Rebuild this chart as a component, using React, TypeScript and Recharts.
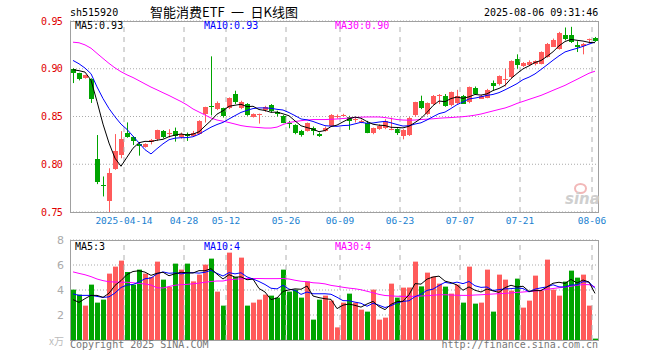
import { ComposedChart, Bar, Line, XAxis, YAxis, CartesianGrid, ReferenceLine } from 'recharts';

const RED = '#ff5b5b';
const GREEN = '#00a400';
const MONO = '"DejaVu Sans Mono", monospace';

const dates = [
  '03-31', '04-01', '04-02', '04-03', '04-07', '04-08', '04-09', '04-10', '04-11', '04-14',
  '04-15', '04-16', '04-17', '04-18', '04-21', '04-22', '04-23', '04-24', '04-25', '04-28',
  '04-29', '04-30', '05-06', '05-07', '05-08', '05-09', '05-12', '05-13', '05-14', '05-15',
  '05-16', '05-19', '05-20', '05-21', '05-22', '05-23', '05-26', '05-27', '05-28', '05-29',
  '05-30', '06-03', '06-04', '06-05', '06-06', '06-09', '06-10', '06-11', '06-12', '06-13',
  '06-16', '06-17', '06-18', '06-19', '06-20', '06-23', '06-24', '06-25', '06-26', '06-27',
  '06-30', '07-01', '07-02', '07-03', '07-04', '07-07', '07-08', '07-09', '07-10', '07-11',
  '07-14', '07-15', '07-16', '07-17', '07-18', '07-21', '07-22', '07-23', '07-24', '07-25',
  '07-28', '07-29', '07-30', '07-31', '08-01', '08-04', '08-05', '08-06',
];

const opens = [
  0.9000, 0.8955, 0.8903, 0.8896, 0.8056, 0.7785, 0.7611, 0.7951, 0.8097, 0.8330,
  0.8288, 0.8208, 0.8184, 0.8236, 0.8264, 0.8349, 0.8328, 0.8349, 0.8279, 0.8321,
  0.8304, 0.8321, 0.8518, 0.8614, 0.8577, 0.8588, 0.8588, 0.8735, 0.8595, 0.8630,
  0.8496, 0.8520, 0.8560, 0.8619, 0.8549, 0.8507, 0.8437, 0.8409, 0.8349, 0.8349,
  0.8384, 0.8321, 0.8349, 0.8402, 0.8500, 0.8514, 0.8500, 0.8461, 0.8454, 0.8437,
  0.8321, 0.8367, 0.8384, 0.8367, 0.8367, 0.8296, 0.8307, 0.8507, 0.8658, 0.8525,
  0.8630, 0.8721, 0.8718, 0.8614, 0.8646, 0.8719, 0.8649, 0.8800, 0.8691, 0.8702,
  0.8849, 0.8835, 0.8891, 0.8905, 0.9105, 0.9025, 0.9035, 0.9042, 0.9053, 0.9123,
  0.9235, 0.9210, 0.9351, 0.9351, 0.9246, 0.9246, 0.9305, 0.9326,
];
const highs = [
  0.9005, 0.8958, 0.8937, 0.8900, 0.8306, 0.7872, 0.7958, 0.8316, 0.8347, 0.8438,
  0.8295, 0.8229, 0.8219, 0.8264, 0.8362, 0.8358, 0.8367, 0.8384, 0.8332, 0.8332,
  0.8349, 0.8461, 0.8602, 0.9130, 0.8658, 0.8592, 0.8700, 0.8770, 0.8665, 0.8640,
  0.8532, 0.8530, 0.8612, 0.8630, 0.8560, 0.8514, 0.8454, 0.8419, 0.8360, 0.8437,
  0.8395, 0.8332, 0.8395, 0.8525, 0.8521, 0.8528, 0.8507, 0.8489, 0.8468, 0.8454,
  0.8384, 0.8419, 0.8472, 0.8489, 0.8377, 0.8367, 0.8496, 0.8654, 0.8718, 0.8647,
  0.8725, 0.8735, 0.8735, 0.8761, 0.8779, 0.8726, 0.8814, 0.8814, 0.8726, 0.8789,
  0.8877, 0.8930, 0.9000, 0.9088, 0.9151, 0.9070, 0.9088, 0.9088, 0.9182, 0.9270,
  0.9316, 0.9386, 0.9432, 0.9439, 0.9288, 0.9270, 0.9316, 0.9333,
];
const lows = [
  0.8850, 0.8878, 0.8896, 0.8642, 0.7792, 0.7663, 0.7500, 0.7941, 0.8063, 0.8278,
  0.8201, 0.8090, 0.8174, 0.8208, 0.8243, 0.8271, 0.8279, 0.8237, 0.8268, 0.8244,
  0.8286, 0.8314, 0.8437, 0.8512, 0.8567, 0.8489, 0.8577, 0.8630, 0.8577, 0.8507,
  0.8489, 0.8426, 0.8549, 0.8542, 0.8500, 0.8430, 0.8377, 0.8314, 0.8289, 0.8342,
  0.8304, 0.8286, 0.8342, 0.8395, 0.8479, 0.8500, 0.8360, 0.8437, 0.8430, 0.8325,
  0.8314, 0.8360, 0.8367, 0.8356, 0.8307, 0.8261, 0.8296, 0.8500, 0.8577, 0.8514,
  0.8623, 0.8630, 0.8602, 0.8607, 0.8632, 0.8632, 0.8639, 0.8726, 0.8684, 0.8691,
  0.8772, 0.8825, 0.8814, 0.8898, 0.9000, 0.9018, 0.9028, 0.9035, 0.9046, 0.9116,
  0.9228, 0.9200, 0.9298, 0.9270, 0.9175, 0.9151, 0.9263, 0.9281,
];
const closes = [
  0.8955, 0.8896, 0.8931, 0.8688, 0.7813, 0.7771, 0.7906, 0.8139, 0.8264, 0.8288,
  0.8243, 0.8191, 0.8215, 0.8253, 0.8358, 0.8286, 0.8332, 0.8296, 0.8314, 0.8304,
  0.8332, 0.8454, 0.8595, 0.8605, 0.8637, 0.8507, 0.8693, 0.8647, 0.8654, 0.8514,
  0.8525, 0.8525, 0.8595, 0.8560, 0.8525, 0.8437, 0.8425, 0.8325, 0.8304, 0.8430,
  0.8349, 0.8296, 0.8384, 0.8518, 0.8504, 0.8518, 0.8454, 0.8475, 0.8458, 0.8332,
  0.8377, 0.8402, 0.8454, 0.8370, 0.8321, 0.8356, 0.8489, 0.8647, 0.8588, 0.8637,
  0.8711, 0.8725, 0.8612, 0.8754, 0.8719, 0.8639, 0.8807, 0.8737, 0.8719, 0.8782,
  0.8814, 0.8919, 0.8895, 0.9077, 0.9046, 0.9060, 0.9070, 0.9077, 0.9175, 0.9263,
  0.9305, 0.9379, 0.9305, 0.9281, 0.9221, 0.9263, 0.9309, 0.9291,
];

const ma5 = [
  0.8990, 0.8980, 0.8965, 0.8880, 0.8657, 0.8420, 0.8222, 0.8063, 0.7979, 0.8074,
  0.8168, 0.8225, 0.8240, 0.8238, 0.8252, 0.8261, 0.8289, 0.8305, 0.8317, 0.8306,
  0.8316, 0.8340, 0.8400, 0.8458, 0.8525, 0.8560, 0.8607, 0.8618, 0.8628, 0.8603,
  0.8607, 0.8573, 0.8563, 0.8544, 0.8546, 0.8528, 0.8508, 0.8454, 0.8403, 0.8384,
  0.8367, 0.8341, 0.8353, 0.8395, 0.8410, 0.8444, 0.8476, 0.8494, 0.8482, 0.8447,
  0.8419, 0.8409, 0.8405, 0.8387, 0.8385, 0.8381, 0.8398, 0.8437, 0.8480, 0.8543,
  0.8614, 0.8662, 0.8655, 0.8688, 0.8704, 0.8690, 0.8706, 0.8731, 0.8724, 0.8737,
  0.8772, 0.8794, 0.8826, 0.8897, 0.8950, 0.8999, 0.9030, 0.9066, 0.9086, 0.9129,
  0.9178, 0.9240, 0.9285, 0.9307, 0.9298, 0.9290, 0.9276, 0.9273,
];
const ma10 = [
  0.9087, 0.9052, 0.9007, 0.8948, 0.8810, 0.8688, 0.8583, 0.8497, 0.8420, 0.8365,
  0.8294, 0.8223, 0.8152, 0.8108, 0.8163, 0.8214, 0.8257, 0.8273, 0.8278, 0.8279,
  0.8288, 0.8314, 0.8352, 0.8388, 0.8416, 0.8438, 0.8474, 0.8509, 0.8543, 0.8564,
  0.8583, 0.8590, 0.8590, 0.8586, 0.8575, 0.8568, 0.8541, 0.8509, 0.8474, 0.8465,
  0.8448, 0.8425, 0.8404, 0.8399, 0.8397, 0.8405, 0.8408, 0.8423, 0.8439, 0.8429,
  0.8432, 0.8442, 0.8449, 0.8434, 0.8416, 0.8400, 0.8403, 0.8421, 0.8434, 0.8464,
  0.8498, 0.8530, 0.8546, 0.8584, 0.8624, 0.8652, 0.8684, 0.8693, 0.8706, 0.8721,
  0.8731, 0.8750, 0.8779, 0.8811, 0.8844, 0.8886, 0.8912, 0.8946, 0.8992, 0.9040,
  0.9089, 0.9135, 0.9176, 0.9196, 0.9214, 0.9234, 0.9258, 0.9279,
];
const ma30 = [
  0.9278, 0.9272, 0.9250, 0.9215, 0.9161, 0.9108, 0.9056, 0.9009, 0.8969, 0.8936,
  0.8908, 0.8875, 0.8841, 0.8808, 0.8779, 0.8749, 0.8720, 0.8688, 0.8657, 0.8621,
  0.8579, 0.8547, 0.8516, 0.8484, 0.8463, 0.8451, 0.8437, 0.8421, 0.8405, 0.8395,
  0.8389, 0.8384, 0.8379, 0.8379, 0.8389, 0.8416, 0.8437, 0.8447, 0.8456, 0.8463,
  0.8468, 0.8468, 0.8468, 0.8471, 0.8474, 0.8479, 0.8484, 0.8489, 0.8493, 0.8495,
  0.8495, 0.8495, 0.8489, 0.8479, 0.8468, 0.8463, 0.8461, 0.8463, 0.8468, 0.8472,
  0.8476, 0.8482, 0.8486, 0.8489, 0.8494, 0.8498, 0.8505, 0.8514, 0.8526, 0.8542,
  0.8558, 0.8574, 0.8589, 0.8611, 0.8637, 0.8658, 0.8679, 0.8700, 0.8721, 0.8747,
  0.8774, 0.8800, 0.8826, 0.8858, 0.8889, 0.8921, 0.8953, 0.8974,
];

// volume, in 万
const volumes = [
  4.03, 3.63, 2.75, 4.43, 2.99, 3.23, 5.31, 5.87, 6.35, 5.44,
  4.43, 5.63, 5.31, 5.04, 6.27, 4.83, 4.24, 6.11, 5.63, 6.11,
  4.69, 5.23, 6.03, 6.51, 3.87, 2.75, 6.99, 5.04, 6.59, 2.75,
  2.99, 3.23, 3.63, 3.55, 3.39, 5.63, 3.87, 4.03, 3.39, 4.69,
  1.63, 3.23, 3.55, 3.15, 1.01, 2.99, 3.71, 2.99, 2.43, 2.27,
  4.03, 1.63, 1.79, 4.51, 3.39, 4.19, 4.20, 6.27, 4.29, 5.39,
  5.07, 4.51, 4.27, 3.71, 4.43, 2.99, 5.87, 2.91, 2.99, 5.63,
  2.27, 5.23, 4.83, 3.95, 4.91, 2.59, 3.15, 5.15, 3.95, 6.43,
  4.03, 3.55, 4.67, 5.55, 4.99, 5.23, 2.75, 0.11,
];
const vma5 = [
  3.23, 3.01, 3.31, 3.57, 3.57, 3.41, 3.74, 4.37, 4.75, 5.24,
  5.48, 5.54, 5.43, 5.17, 5.34, 5.42, 5.14, 5.30, 5.42, 5.38,
  5.36, 5.55, 5.54, 5.71, 5.27, 4.88, 5.23, 5.03, 5.05, 4.82,
  4.87, 4.12, 3.84, 3.23, 3.36, 3.89, 4.01, 4.09, 4.06, 4.32,
  3.52, 3.39, 3.30, 3.25, 2.51, 2.79, 2.88, 2.77, 2.63, 2.88,
  3.09, 2.67, 2.43, 2.85, 3.07, 3.10, 3.62, 4.51, 4.47, 4.87,
  5.04, 5.11, 4.71, 4.59, 4.40, 3.98, 4.25, 3.98, 3.84, 4.08,
  3.93, 3.81, 4.19, 4.38, 4.24, 4.30, 3.89, 3.95, 3.95, 4.25,
  4.54, 4.62, 4.53, 4.85, 4.56, 4.80, 4.64, 3.73,
];
const vma10 = [
  3.69, 3.57, 3.57, 3.57, 3.49, 3.41, 3.45, 3.76, 4.20, 4.40,
  4.44, 4.64, 4.90, 4.96, 5.29, 5.45, 5.34, 5.37, 5.29, 5.36,
  5.39, 5.35, 5.42, 5.57, 5.33, 5.12, 5.39, 5.29, 5.38, 5.05,
  4.88, 4.68, 4.44, 4.14, 4.09, 4.38, 4.07, 3.97, 3.65, 3.84,
  3.70, 3.70, 3.70, 3.66, 3.42, 3.15, 3.14, 3.03, 2.94, 2.70,
  2.94, 2.78, 2.60, 2.74, 2.97, 3.09, 3.14, 3.47, 3.66, 3.97,
  4.07, 4.36, 4.61, 4.53, 4.63, 4.51, 4.68, 4.34, 4.21, 4.24,
  3.96, 4.03, 4.09, 4.11, 4.16, 4.12, 3.85, 4.07, 4.17, 4.25,
  4.42, 4.25, 4.24, 4.40, 4.41, 4.67, 4.63, 4.13,
];
const vma30 = [
  5.45, 5.33, 5.22, 5.07, 4.88, 4.75, 4.66, 4.64, 4.62, 4.62,
  4.58, 4.52, 4.48, 4.40, 4.18, 4.16, 4.28, 4.38, 4.43, 4.45,
  4.50, 4.55, 4.62, 4.68, 4.72, 4.72, 4.82, 4.86, 4.90, 4.92,
  4.92, 4.92, 4.91, 4.91, 4.91, 4.92, 4.88, 4.78, 4.70, 4.66,
  4.58, 4.55, 4.49, 4.37, 4.30, 4.22, 4.15, 4.10, 4.02, 3.90,
  3.78, 3.65, 3.56, 3.53, 3.50, 3.49, 3.49, 3.50, 3.52, 3.55,
  3.58, 3.62, 3.62, 3.60, 3.58, 3.57, 3.57, 3.60, 3.62, 3.65,
  3.68, 3.71, 3.73, 3.77, 3.81, 3.84, 3.88, 3.92, 3.98, 4.06,
  4.12, 4.18, 4.24, 4.30, 4.38, 4.43, 4.43, 4.25,
];

const tickDates = ['04-14', '04-28', '05-12', '05-26', '06-09', '06-23', '07-07', '07-21', '08-06'];
const tickLabels = ['2025-04-14', '04-28', '05-12', '05-26', '06-09', '06-23', '07-07', '07-21', '08-06'];
const priceTicks = [0.75, 0.8, 0.85, 0.9, 0.95];
const volTicks = [0, 2, 4, 6, 8];

const rows = dates.map((date, i) => ({
  date,
  open: opens[i],
  high: highs[i],
  low: lows[i],
  close: closes[i],
  range: [lows[i], highs[i]],
  up: closes[i] >= opens[i],
  ma5: ma5[i],
  ma10: ma10[i],
  ma30: ma30[i],
  vol: volumes[i],
  vma5: vma5[i],
  vma10: vma10[i],
  vma30: vma30[i],
}));

const Candle = (props: any) => {
  const { x, y, width, height, payload } = props;
  if (!payload || height == null) return null;
  const { open, close, high, low, up } = payload;
  const top = Math.min(y, y + height);
  const h = Math.abs(height);
  const toY = (p: number) => top + ((high - p) / (high - low)) * h;
  const color = up ? RED : GREEN;
  const left = Math.floor(x + width / 2 - 2.5);
  const yo = toY(open);
  const yc = toY(close);
  const bTop = Math.round(Math.min(yo, yc));
  const bH = Math.max(1, Math.round(Math.abs(yo - yc)));
  return (
    <g>
      <line x1={left + 2.5} x2={left + 2.5} y1={top} y2={top + h} stroke={color} strokeWidth={1} />
      <rect x={left} y={bTop} width={5} height={bH} fill={color} />
    </g>
  );
};

const VolBar = (props: any) => {
  const { x, y, width, height, payload } = props;
  if (!payload) return null;
  const left = Math.floor(x + width / 2 - 2.5);
  return <rect x={left} y={y} width={5} height={Math.max(0, height)} fill={payload.up ? RED : GREEN} />;
};

const DateTick = ({ x, y, payload }: any) => {
  const start = x - (payload.offset ?? 3);
  const label = tickLabels[tickDates.indexOf(payload.value)] ?? payload.value;
  return (
    <text x={start} y={y + 12} textAnchor="middle" fontSize={9.5} fill="#1a7fd0" fontFamily={MONO}>
      {label}
    </text>
  );
};

const PriceTick = ({ x, y, payload }: any) => (
  <text x={x} y={y + 3.5} textAnchor="end" fontSize={10} fill="#e00000" fontFamily={MONO} letterSpacing={-0.8}>
    {payload.value.toFixed(2)}
  </text>
);

const VolTick = ({ x, y, payload }: any) =>
  payload.value === 0 ? (
    <text x={x} y={y + 5} textAnchor="end" fontSize={10} fill="#bbb" fontFamily='"Noto Sans CJK SC", sans-serif'>
      x万
    </text>
  ) : (
    <text x={x} y={y + 4} textAnchor="end" fontSize={11} fill="#aaa" fontFamily='"DejaVu Sans", sans-serif'>
      {payload.value}
    </text>
  );

const abs = (left: number, top: number, extra: any = {}) => ({
  position: 'absolute' as const,
  left,
  top,
  whiteSpace: 'pre' as const,
  ...extra,
});

export default function App() {
  return (
    <div style={{ position: 'absolute', left: 0, top: 0, width: 660, height: 360, background: '#fff', overflow: 'hidden', fontFamily: MONO }}>
      <div style={abs(70, 7, { fontSize: 10, lineHeight: '12px', color: '#000' })}>sh515920</div>
      <div style={abs(150, 4, { fontSize: 13, lineHeight: '16px', color: '#000', fontFamily: '"Noto Sans CJK SC", sans-serif' })}>
        {'智能消费ETF\u2002一\u2002日K线图'}
      </div>
      <div style={abs(484, 7, { fontSize: 10, lineHeight: '12px', color: '#000' })}>2025-08-06 09:31:46</div>

      <div style={abs(0, 0)}>
        <ComposedChart width={660} height={230} data={rows} margin={{ top: 21, right: 62, left: 0, bottom: 0 }}>
          <CartesianGrid vertical={false} stroke="#aaa" strokeDasharray="1 2" />
          <XAxis dataKey="date" ticks={tickDates} interval={0} tick={<DateTick />} tickSize={0} tickMargin={0} height={18} axisLine={false} />
          <YAxis domain={[0.75, 0.95]} ticks={priceTicks} allowDataOverflow width={70} tickSize={0} tickMargin={8} axisLine={false} tick={<PriceTick />} />
          {tickDates.map((d) => (
            <ReferenceLine key={d} x={d} position="start" stroke="#b0b0b0" strokeDasharray="5 5" />
          ))}
          <Bar dataKey="range" barSize={5} shape={<Candle />} isAnimationActive={false} />
          <Line dataKey="ma30" stroke="#ff00ff" strokeWidth={1} dot={false} activeDot={false} isAnimationActive={false} />
          <Line dataKey="ma10" stroke="#0000ff" strokeWidth={1} dot={false} activeDot={false} isAnimationActive={false} />
          <Line dataKey="ma5" stroke="#000000" strokeWidth={1} dot={false} activeDot={false} isAnimationActive={false} />
        </ComposedChart>
      </div>

      <div style={abs(0, 230)}>
        <ComposedChart width={660} height={130} data={rows} margin={{ top: 10, right: 62, left: 0, bottom: 20 }}>
          <CartesianGrid vertical={false} stroke="#aaa" strokeDasharray="1 2" />
          <XAxis dataKey="date" hide />
          <YAxis domain={[0, 8]} ticks={volTicks} allowDataOverflow width={70} tickSize={0} tickMargin={6} axisLine={false} tick={<VolTick />} />
          {tickDates.map((d) => (
            <ReferenceLine key={d} x={d} position="start" stroke="#b0b0b0" strokeDasharray="5 5" />
          ))}
          <Bar dataKey="vol" barSize={5} shape={<VolBar />} isAnimationActive={false} />
          <Line dataKey="vma30" stroke="#ff00ff" strokeWidth={1} dot={false} activeDot={false} isAnimationActive={false} />
          <Line dataKey="vma10" stroke="#0000ff" strokeWidth={1} dot={false} activeDot={false} isAnimationActive={false} />
          <Line dataKey="vma5" stroke="#000000" strokeWidth={1} dot={false} activeDot={false} isAnimationActive={false} />
        </ComposedChart>
      </div>

      {/* plot frames */}
      <div style={abs(70, 21, { width: 529, height: 192, boxSizing: 'border-box', border: '1px solid #a0a0a0', pointerEvents: 'none' })} />
      <div style={abs(70, 240, { width: 529, height: 101, boxSizing: 'border-box', border: '1px solid #a0a0a0', pointerEvents: 'none' })} />

      {/* legends */}
      <div style={abs(75, 20, { fontSize: 10, lineHeight: '12px', color: '#000' })}>MA5:0.93</div>
      <div style={abs(204, 20, { fontSize: 10, lineHeight: '12px', color: '#0000ff' })}>MA10:0.93</div>
      <div style={abs(335, 20, { fontSize: 10, lineHeight: '12px', color: '#ff00ff' })}>MA30:0.90</div>
      <div style={abs(75, 241, { fontSize: 10, lineHeight: '12px', color: '#000' })}>MA5:3</div>
      <div style={abs(204, 241, { fontSize: 10, lineHeight: '12px', color: '#0000ff' })}>MA10:4</div>
      <div style={abs(335, 241, { fontSize: 10, lineHeight: '12px', color: '#ff00ff' })}>MA30:4</div>

      {/* watermark */}
      <div style={abs(574, 183, { width: 9, height: 7, borderRadius: '50%', border: '2px solid #f2b8b8' })} />
      <div style={abs(565, 191, { fontSize: 15, lineHeight: '16px', fontWeight: 'bold', fontStyle: 'italic', color: '#cfcfcf', fontFamily: '"DejaVu Sans", sans-serif' })}>sina</div>

      <div style={abs(70, 339, { fontSize: 10, lineHeight: '12px', color: '#777' })}>Copyright 2025 SINA.COM</div>
      <div style={abs(440, 339, { fontSize: 10, lineHeight: '12px', color: '#777', width: 158, textAlign: 'right' })}>http://finance.sina.com.cn</div>
    </div>
  );
}
